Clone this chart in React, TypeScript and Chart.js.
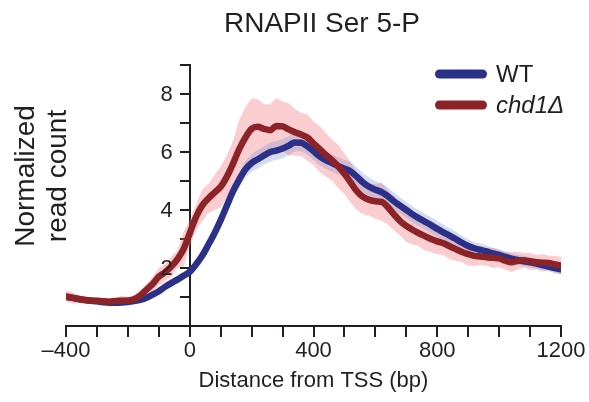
import { useEffect, useRef } from 'react';
import { Chart, registerables } from 'chart.js';

Chart.register(...registerables);

const POSITIONS = [
  -400, -380, -360, -340, -320, -300, -280, -260, -240, -220, -200, -180, -160, -140, -120, -100, -80, -60, -40, -20,
  0, 20, 40, 60, 80, 100, 120, 140, 160, 180, 200, 220, 240, 260, 280, 300, 320, 340, 360, 380,
  400, 420, 440, 460, 480, 500, 520, 540, 560, 580, 600, 620, 640, 660, 680, 700, 720, 740, 760, 780,
  800, 820, 840, 860, 880, 900, 920, 940, 960, 980, 1000, 1020, 1040, 1060, 1080, 1100, 1120, 1140, 1160, 1180,
  1200,
];

const WT_MEAN = [
  1.0, 0.97, 0.93, 0.9, 0.87, 0.85, 0.82, 0.8, 0.8, 0.81, 0.83, 0.86, 0.9, 0.97, 1.08, 1.2, 1.35, 1.48, 1.6, 1.73,
  1.87, 2.12, 2.42, 2.8, 3.2, 3.65, 4.15, 4.65, 5.05, 5.4, 5.62, 5.75, 5.88, 6.0, 6.05, 6.12, 6.22, 6.33, 6.32, 6.2,
  6.03, 5.85, 5.72, 5.62, 5.52, 5.42, 5.33, 5.15, 4.95, 4.8, 4.7, 4.62, 4.48, 4.3, 4.15, 4.0, 3.85, 3.72, 3.6, 3.48,
  3.35, 3.23, 3.12, 3.0, 2.87, 2.76, 2.68, 2.62, 2.57, 2.5, 2.45, 2.38, 2.32, 2.28, 2.23, 2.2, 2.15, 2.1, 2.05, 2.0,
  1.95,
];

const WT_SD = [
  0.08, 0.07, 0.08, 0.07, 0.08, 0.07, 0.08, 0.07, 0.08, 0.08, 0.09, 0.09, 0.1, 0.1, 0.11, 0.12, 0.12, 0.12, 0.12, 0.13,
  0.13, 0.14, 0.15, 0.17, 0.19, 0.21, 0.23, 0.25, 0.27, 0.28, 0.3, 0.32, 0.32, 0.33, 0.33, 0.33, 0.32, 0.32, 0.3, 0.3,
  0.3, 0.3, 0.3, 0.3, 0.3, 0.3, 0.32, 0.32, 0.32, 0.32, 0.3, 0.3, 0.3, 0.3, 0.28, 0.28, 0.28, 0.28, 0.28, 0.27,
  0.27, 0.26, 0.25, 0.25, 0.24, 0.23, 0.22, 0.22, 0.21, 0.2, 0.2, 0.19, 0.18, 0.18, 0.18, 0.17, 0.17, 0.17, 0.16, 0.16,
  0.16,
];

const CHD1_MEAN = [
  1.02, 0.98, 0.93, 0.9, 0.88, 0.87, 0.85, 0.84, 0.86, 0.87, 0.88, 0.92, 1.05, 1.25, 1.45, 1.7, 1.85, 2.05, 2.3, 2.65,
  3.2, 3.75, 4.15, 4.4, 4.6, 4.8, 5.15, 5.6, 6.1, 6.5, 6.8, 6.87, 6.8, 6.75, 6.9, 6.88, 6.78, 6.68, 6.6, 6.5,
  6.3, 6.1, 5.9, 5.72, 5.5, 5.25, 4.95, 4.65, 4.45, 4.35, 4.3, 4.28, 4.1, 3.85, 3.62, 3.45, 3.32, 3.2, 3.1, 3.0,
  2.92, 2.85, 2.75, 2.65, 2.55, 2.48, 2.42, 2.4, 2.37, 2.35, 2.33, 2.25, 2.2, 2.25, 2.27, 2.23, 2.2, 2.18, 2.17, 2.12,
  2.08,
];

const CHD1_SD = [
  0.18, 0.2, 0.12, 0.15, 0.1, 0.12, 0.1, 0.14, 0.1, 0.18, 0.12, 0.15, 0.2, 0.18, 0.25, 0.3, 0.3, 0.35, 0.3, 0.6,
  0.45, 0.45, 0.55, 0.5, 0.6, 0.7, 0.75, 0.8, 1.0, 1.05, 1.05, 0.95, 0.85, 0.9, 0.95, 0.85, 0.9, 0.8, 0.75, 0.8,
  0.75, 0.8, 0.75, 0.7, 0.75, 0.7, 0.7, 0.65, 0.6, 0.55, 0.6, 0.65, 0.6, 0.55, 0.5, 0.55, 0.5, 0.45, 0.5, 0.45,
  0.45, 0.4, 0.45, 0.4, 0.35, 0.4, 0.35, 0.3, 0.3, 0.35, 0.3, 0.3, 0.35, 0.3, 0.25, 0.3, 0.25, 0.3, 0.25, 0.3,
  0.3,
];

const X_LABELED = [-400, 0, 400, 800, 1200];
const Y_LABELED = [2, 4, 6, 8];
const SERIES_NAMES = ['WT', 'chd1\u0394'];
const TITLE = 'RNAPII Ser 5-P';
const Y_TITLE = ['Normalized', 'read count'];
const X_TITLE = 'Distance from TSS (bp)';

const FONT = '"Liberation Sans", Arial, Helvetica, sans-serif';
const INK = '#231f20';
const WT_COLOR = '#2b3088';
const CHD1_COLOR = '#8c2326';
const WT_BAND = 'rgba(120, 138, 205, 0.3)';
const CHD1_BAND = 'rgba(240, 120, 125, 0.36)';

const toPoints = (ys: number[]) => POSITIONS.map((x, i) => ({ x, y: ys[i] }));
const offsetPoints = (ys: number[], sd: number[], sign: number) =>
  POSITIONS.map((x, i) => ({ x, y: ys[i] + sign * sd[i] }));

const Y_TICK_LEN = 9;
const Y_TICK_PAD = 8;

const overlayPlugin = {
  id: 'overlayText',
  afterDraw(chart: any) {
    const ctx = chart.ctx as CanvasRenderingContext2D;
    ctx.save();
    ctx.fillStyle = INK;
    // main title
    ctx.font = `28px ${FONT}`;
    ctx.textAlign = 'center';
    ctx.textBaseline = 'alphabetic';
    ctx.fillText(TITLE, 322, 32);
    // y title
    ctx.save();
    ctx.translate(34, 176);
    ctx.rotate(-Math.PI / 2);
    ctx.fillText(Y_TITLE[0], 0, 0);
    ctx.restore();
    ctx.save();
    ctx.translate(66, 176);
    ctx.rotate(-Math.PI / 2);
    ctx.fillText(Y_TITLE[1], 0, 0);
    ctx.restore();
    // y tick labels, placed by the library's scales
    const xs = chart.scales.x;
    const ys = chart.scales.y;
    const axisX = xs.getPixelForValue(0);
    ctx.font = `22px ${FONT}`;
    ctx.textAlign = 'right';
    ctx.textBaseline = 'middle';
    Y_LABELED.forEach((v) => {
      ctx.fillText(String(v), axisX - Y_TICK_LEN - Y_TICK_PAD, ys.getPixelForValue(v) + 1);
    });
    // legend
    const lineDs = [chart.data.datasets[4], chart.data.datasets[5]];
    const rows = [74, 105];
    lineDs.forEach((ds: any, i: number) => {
      ctx.beginPath();
      ctx.strokeStyle = ds.borderColor;
      ctx.lineWidth = 9;
      ctx.lineCap = 'round';
      ctx.moveTo(439.5, rows[i]);
      ctx.lineTo(482.5, rows[i]);
      ctx.stroke();
      ctx.fillStyle = INK;
      ctx.textAlign = 'left';
      ctx.textBaseline = 'middle';
      ctx.font = i === 1 ? `italic 24px ${FONT}` : `24px ${FONT}`;
      ctx.fillText(SERIES_NAMES[i], 496, rows[i] + 1);
    });
    ctx.restore();
  },
};

export default function App() {
  const canvasRef = useRef<HTMLCanvasElement | null>(null);

  useEffect(() => {
    if (!canvasRef.current) return;
    const chart = new Chart(canvasRef.current, {
      type: 'line',
      data: {
        datasets: [
          {
            label: 'WT upper',
            data: offsetPoints(WT_MEAN, WT_SD, 1),
            borderWidth: 0,
            pointRadius: 0,
            backgroundColor: WT_BAND,
            fill: '+1',
            tension: 0.3,
            order: 3,
          },
          {
            label: 'WT lower',
            data: offsetPoints(WT_MEAN, WT_SD, -1),
            borderWidth: 0,
            pointRadius: 0,
            fill: false,
            tension: 0.3,
            order: 3,
          },
          {
            label: 'chd1 upper',
            data: offsetPoints(CHD1_MEAN, CHD1_SD, 1),
            borderWidth: 0,
            pointRadius: 0,
            backgroundColor: CHD1_BAND,
            fill: '+1',
            tension: 0,
            order: 4,
          },
          {
            label: 'chd1 lower',
            data: offsetPoints(CHD1_MEAN, CHD1_SD, -1),
            borderWidth: 0,
            pointRadius: 0,
            fill: false,
            tension: 0,
            order: 4,
          },
          {
            label: SERIES_NAMES[0],
            data: toPoints(WT_MEAN),
            borderColor: WT_COLOR,
            borderWidth: 6.5,
            pointRadius: 0,
            fill: false,
            cubicInterpolationMode: 'monotone',
            borderCapStyle: 'round',
            borderJoinStyle: 'round',
            order: 1,
          },
          {
            label: SERIES_NAMES[1],
            data: toPoints(CHD1_MEAN),
            borderColor: CHD1_COLOR,
            borderWidth: 6.5,
            pointRadius: 0,
            fill: false,
            cubicInterpolationMode: 'monotone',
            borderCapStyle: 'round',
            borderJoinStyle: 'round',
            order: 0,
          },
        ],
      },
      options: {
        responsive: false,
        animation: false,
        events: [],
        layout: { padding: { left: 66, right: 28, top: 65, bottom: 0 } },
        plugins: {
          legend: { display: false },
          title: { display: false },
          tooltip: { enabled: false },
        },
        scales: {
          x: {
            type: 'linear',
            position: 'bottom',
            min: -400,
            max: 1200,
            afterFit: (scale: any) => {
              scale.height = 76;
            },
            border: { display: true, color: INK, width: 2 },
            grid: {
              drawOnChartArea: false,
              drawTicks: true,
              tickLength: 11,
              color: INK,
              lineWidth: 2,
            },
            ticks: {
              stepSize: 100,
              autoSkip: false,
              maxRotation: 0,
              padding: 1,
              color: INK,
              font: { family: FONT, size: 22 },
              callback: (v: any) => {
                const n = Number(v);
                if (!X_LABELED.includes(n)) return '';
                return n < 0 ? '\u2013' + String(-n) : String(n);
              },
            },
            title: {
              display: true,
              text: X_TITLE,
              color: INK,
              font: { family: FONT, size: 22 },
              padding: { top: 0, bottom: 8 },
            },
          },
          y: {
            type: 'linear',
            axis: 'y',
            position: { x: 0 },
            min: 0,
            max: 9,
            border: { display: true, color: INK, width: 2 },
            grid: {
              drawOnChartArea: false,
              drawTicks: true,
              tickLength: Y_TICK_LEN,
              color: INK,
              lineWidth: 2,
            },
            ticks: {
              stepSize: 1,
              autoSkip: false,
              color: INK,
              font: { family: FONT, size: 22 },
              callback: () => '',
            },
          },
        },
      } as any,
      plugins: [overlayPlugin],
    });
    return () => chart.destroy();
  }, []);

  return (
    <div style={{ position: 'fixed', left: 0, top: 0, width: 589, height: 402, background: '#fff' }}>
      <canvas ref={canvasRef} width={589} height={402} style={{ display: 'block' }} />
    </div>
  );
}
